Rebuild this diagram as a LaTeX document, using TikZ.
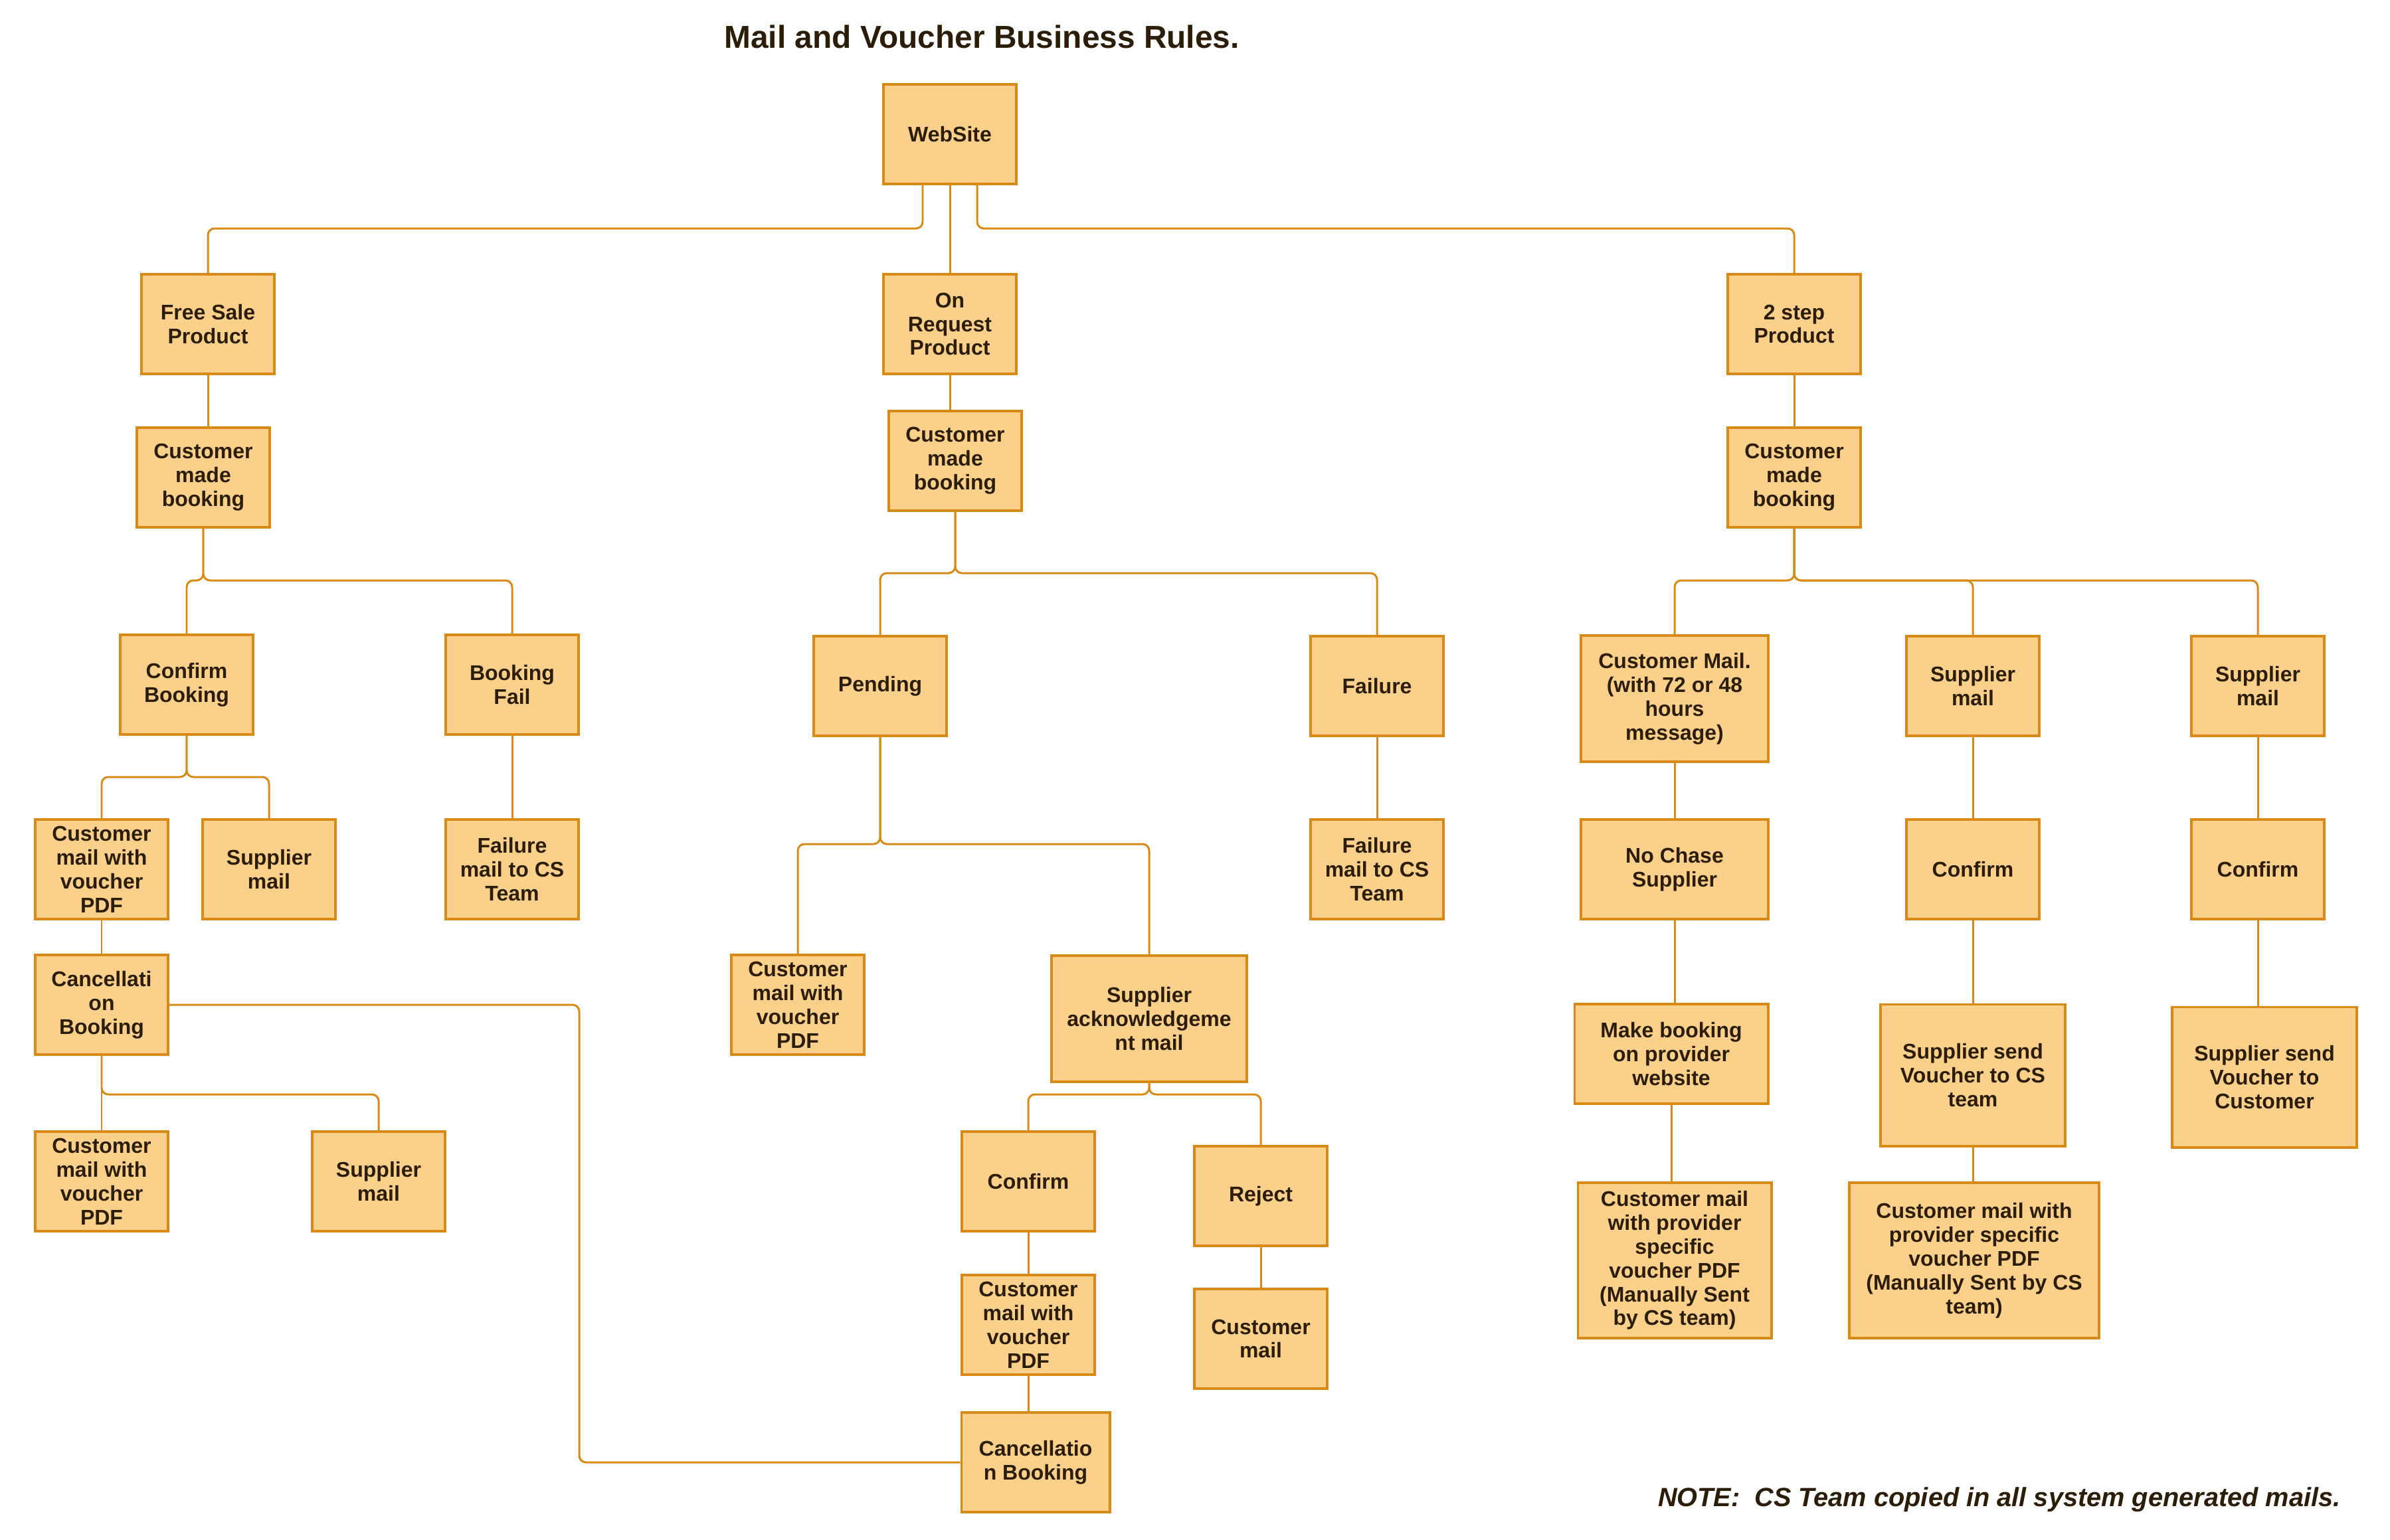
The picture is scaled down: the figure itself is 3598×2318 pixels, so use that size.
\documentclass[tikz,border=0pt]{standalone}
\usepackage{fontspec}
\setmainfont{Liberation Sans}
\usepackage{tikz}
\definecolor{boxfill}{HTML}{FBD08A}
\definecolor{boxline}{HTML}{D98A16}
\definecolor{txt}{HTML}{2B1D08}

\begin{document}
\begin{tikzpicture}[x=0.01cm,y=-0.01cm,
    box/.style={draw=boxline, line width=1.1pt, fill=boxfill, text=txt, align=center, inner sep=0pt,
        minimum width=2cm, minimum height=1.5cm, font=\fontsize{9.1pt}{10.2pt}\selectfont\bfseries},
    link/.style={draw=boxline, line width=0.85pt, rounded corners=0.1cm}]
    \useasboundingbox (0,0) rectangle (3598,2318);

    \node[text=txt, font=\fontsize{13.6pt}{16pt}\selectfont\bfseries] (title) at (1478,55) {Mail and Voucher Business Rules.};
    \node[text=txt, anchor=east, font=\fontsize{11.3pt}{13pt}\selectfont\bfseries\itshape] (note) at (3536,2258) {NOTE:\ \ CS Team copied in all system generated mails.};

    % top level
    \node[box] (web) at (1430,202) {WebSite};
    \node[box] (free) at (313,488) {Free Sale\\Product};
    \node[box] (onreq) at (1430,488) {On\\Request\\Product};
    \node[box] (twostep) at (2701,488) {2 step\\Product};
    \node[box] (cmbL) at (306,719) {Customer\\made\\booking};
    \node[box] (cmbM) at (1438,694) {Customer\\made\\booking};
    \node[box] (cmbR) at (2701,719) {Customer\\made\\booking};

    % free sale branch
    \node[box] (confB) at (281,1031) {Confirm\\Booking};
    \node[box] (bfail) at (771,1031) {Booking\\Fail};
    \node[box] (cmvL1) at (153,1309) {Customer\\mail with\\voucher\\PDF};
    \node[box] (supL1) at (405,1309) {Supplier\\mail};
    \node[box] (fmL) at (771,1309) {Failure\\mail to CS\\Team};
    \node[box] (cancL) at (153,1513) {Cancellati\\on\\Booking};
    \node[box] (cmvL2) at (153,1779) {Customer\\mail with\\voucher\\PDF};
    \node[box] (supL2) at (570,1779) {Supplier\\mail};

    % on request branch
    \node[box] (pend) at (1325,1033) {Pending};
    \node[box] (fail) at (2073,1033) {Failure};
    \node[box] (fmM) at (2073,1309) {Failure\\mail to CS\\Team};
    \node[box] (cmvM1) at (1201,1513) {Customer\\mail with\\voucher\\PDF};
    \node[box, minimum width=2.94cm, minimum height=1.9cm] (supack) at (1730,1534) {Supplier\\acknowledgeme\\nt mail};
    \node[box] (confM) at (1548,1779) {Confirm};
    \node[box] (reject) at (1898,1801) {Reject};
    \node[box] (cmvM2) at (1548,1995) {Customer\\mail with\\voucher\\PDF};
    \node[box] (custmail) at (1898,2016) {Customer\\mail};
    \node[box, minimum width=2.23cm] (cancM) at (1559,2202) {Cancellatio\\n Booking};

    % 2 step branch
    \node[box, minimum width=2.82cm, minimum height=1.9cm] (cmail72) at (2521,1052) {Customer Mail.\\(with 72 or 48\\hours\\message)};
    \node[box] (supR1) at (2970,1033) {Supplier\\mail};
    \node[box] (supR2) at (3399,1033) {Supplier\\mail};
    \node[box, minimum width=2.82cm] (nochase) at (2521,1309) {No Chase\\Supplier};
    \node[box] (confR1) at (2970,1309) {Confirm};
    \node[box] (confR2) at (3399,1309) {Confirm};
    \node[box, minimum width=2.91cm] (makebk) at (2516,1587) {Make booking\\on provider\\website};
    \node[box, minimum width=2.78cm, minimum height=2.13cm] (sendCS) at (2970,1619) {Supplier send\\Voucher to CS\\team};
    \node[box, minimum width=2.78cm, minimum height=2.11cm] (sendCu) at (3409,1622) {Supplier send\\Voucher to\\Customer};
    \node[box, minimum width=2.91cm, minimum height=2.34cm] (provL) at (2521,1898) {Customer mail\\with provider\\specific\\voucher PDF\\(Manually Sent\\by CS team)};
    \node[box, minimum width=3.76cm, minimum height=2.34cm] (provR) at (2972,1898) {Customer mail with\\provider specific\\voucher PDF\\(Manually Sent by CS\\team)};

    % connectors
    \coordinate (webL) at ([xshift=-0.41cm]web.south);
    \coordinate (webR) at ([xshift=0.41cm]web.south);
    \draw[link] (webL) -- (webL |- 0,344) -| (free.north);
    \draw[link] (web.south) -- (web.south |- onreq.north);
    \draw[link] (webR) -- (webR |- 0,344) -| (twostep.north);
    \draw[link] (free.south) -- (free.south |- cmbL.north);
    \draw[link] (onreq.south) -- (onreq.south |- cmbM.north);
    \draw[link] (twostep.south) -- (twostep.south |- cmbR.north);

    \draw[link] (cmbL.south) -- (cmbL.south |- 0,874) -| (confB.north);
    \draw[link] (cmbL.south) -- (cmbL.south |- 0,874) -| (bfail.north);
    \draw[link] (confB.south) -- (confB.south |- 0,1170) -| (cmvL1.north);
    \draw[link] (confB.south) -- (confB.south |- 0,1170) -| (supL1.north);
    \draw[link] (bfail.south) -- (bfail.south |- fmL.north);
    \draw[link] (cmvL1.south) -- (cmvL1.south |- cancL.north);
    \draw[link] (cancL.south) -- (cancL.south |- 0,1648) -| (cmvL2.north);
    \draw[link] (cancL.south) -- (cancL.south |- 0,1648) -| (supL2.north);
    \draw[link] (cancL.east) -- (cancL.east -| 872,0) |- (cancM.west);

    \draw[link] (cmbM.south) -- (cmbM.south |- 0,863) -| (pend.north);
    \draw[link] (cmbM.south) -- (cmbM.south |- 0,863) -| (fail.north);
    \draw[link] (fail.south) -- (fail.south |- fmM.north);
    \draw[link] (pend.south) -- (pend.south |- 0,1271) -| (cmvM1.north);
    \draw[link] (pend.south) -- (pend.south |- 0,1271) -| (supack.north);
    \draw[link] (supack.south) -- (supack.south |- 0,1648) -| (confM.north);
    \draw[link] (supack.south) -- (supack.south |- 0,1648) -| (reject.north);
    \draw[link] (confM.south) -- (confM.south |- cmvM2.north);
    \draw[link] (cmvM2.south) -- (cmvM2.south |- cancM.north);
    \draw[link] (reject.south) -- (reject.south |- custmail.north);

    \draw[link] (cmbR.south) -- (cmbR.south |- 0,874) -| (cmail72.north);
    \draw[link] (cmbR.south) -- (cmbR.south |- 0,874) -| (supR1.north);
    \draw[link] (cmbR.south) -- (cmbR.south |- 0,874) -| (supR2.north);
    \draw[link] (cmail72.south) -- (cmail72.south |- nochase.north);
    \draw[link] (nochase.south) -- (nochase.south |- makebk.north);
    \draw[link] (makebk.south) -- (makebk.south |- provL.north);
    \draw[link] (supR1.south) -- (supR1.south |- confR1.north);
    \draw[link] (confR1.south) -- (confR1.south |- sendCS.north);
    \draw[link] (sendCS.south) -- (sendCS.south |- provR.north);
    \draw[link] (supR2.south) -- (supR2.south |- confR2.north);
    \draw[link] (confR2.south) -- (confR2.south |- sendCu.north);
\end{tikzpicture}
\end{document}
